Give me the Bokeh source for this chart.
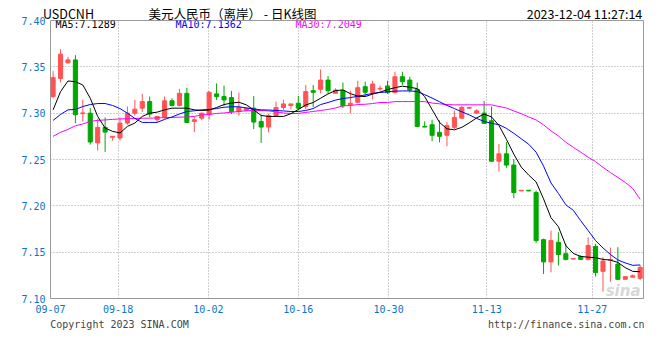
from bokeh.plotting import figure
from bokeh.models import (Range1d, FixedTicker, Label, ColumnDataSource,
                          PrintfTickFormatter, LinearAxis)
from bokeh.embed import file_html
from bokeh.resources import INLINE

# ---------------- data ----------------
opens = [7.3179, 7.3375, 7.3543, 7.3575, 7.2995, 7.3000, 7.2679, 7.2847, 7.2740, 7.2732,
         7.2893, 7.3000, 7.3054, 7.3125, 7.2929, 7.2954, 7.3133, 7.3083, 7.3214, 7.2911,
         7.2946, 7.2985, 7.3208, 7.3179, 7.3168, 7.3018, 7.3029, 7.3054, 7.2911, 7.2850,
         7.2975, 7.3061, 7.3082, 7.3107, 7.3072, 7.3243, 7.3257, 7.3357, 7.3214, 7.3243,
         7.3090, 7.3118, 7.3286, 7.3222, 7.3261, 7.3293, 7.3222, 7.3393, 7.3357, 7.3257,
         7.2857, 7.2875, 7.2793, 7.2761, 7.2847, 7.2946, 7.3054, 7.3000, 7.3000, 7.2918,
         7.2482, 7.2561, 7.2440, 7.2161, 7.2168, 7.2143, 7.1635, 7.1395, 7.1607, 7.1483,
         7.1425, 7.1454, 7.1422, 7.1561, 7.1293, 7.1415, 7.1371, 7.1207, 7.1230, 7.1218]
closes = [7.3383, 7.3636, 7.3575, 7.2983, 7.3003, 7.2689, 7.2847, 7.2796, 7.2750, 7.2893,
          7.3000, 7.3043, 7.3125, 7.2990, 7.2965, 7.3133, 7.3083, 7.3214, 7.2900, 7.2929,
          7.3000, 7.3225, 7.3179, 7.3143, 7.3018, 7.3064, 7.3054, 7.2904, 7.2850, 7.2972,
          7.3061, 7.3100, 7.3100, 7.3054, 7.3233, 7.3225, 7.3357, 7.3243, 7.3250, 7.3080,
          7.3107, 7.3275, 7.3225, 7.3315, 7.3268, 7.3222, 7.3393, 7.3340, 7.3250, 7.2857,
          7.2850, 7.2761, 7.2750, 7.2865, 7.2954, 7.3061, 7.3061, 7.3025, 7.2890, 7.2482,
          7.2561, 7.2440, 7.2143, 7.2168, 7.2161, 7.1625, 7.1395, 7.1625, 7.1475, 7.1422,
          7.1432, 7.1422, 7.1572, 7.1279, 7.1404, 7.1420, 7.1207, 7.1236, 7.1245, 7.1336]
highs = [7.3454, 7.3690, 7.3608, 7.3626, 7.3144, 7.3054, 7.2940, 7.2954, 7.2750, 7.2954,
         7.3072, 7.3144, 7.3208, 7.3180, 7.2965, 7.3180, 7.3161, 7.3261, 7.3275, 7.2965,
         7.3005, 7.3240, 7.3321, 7.3297, 7.3240, 7.3222, 7.3060, 7.3186, 7.2983, 7.2993,
         7.3125, 7.3144, 7.3100, 7.3186, 7.3304, 7.3304, 7.3472, 7.3400, 7.3268, 7.3330,
         7.3243, 7.3350, 7.3340, 7.3350, 7.3297, 7.3350, 7.3447, 7.3447, 7.3393, 7.3330,
         7.2911, 7.2929, 7.2922, 7.2904, 7.3029, 7.3080, 7.3068, 7.3043, 7.3130, 7.3072,
         7.2668, 7.2689, 7.2504, 7.2168, 7.2168, 7.2165, 7.1646, 7.1732, 7.1714, 7.1590,
         7.1432, 7.1465, 7.1661, 7.1590, 7.1447, 7.1550, 7.1554, 7.1236, 7.1260, 7.1361]
lows = [7.3161, 7.3332, 7.3536, 7.2893, 7.2911, 7.2661, 7.2597, 7.2582, 7.2704, 7.2704,
        7.2875, 7.2975, 7.3011, 7.2954, 7.2904, 7.2940, 7.3072, 7.3072, 7.2893, 7.2796,
        7.2922, 7.2929, 7.3143, 7.3080, 7.2993, 7.2972, 7.3025, 7.2829, 7.2679, 7.2793,
        7.2965, 7.3036, 7.3043, 7.3029, 7.3043, 7.3064, 7.3214, 7.3214, 7.3214, 7.3054,
        7.3000, 7.3107, 7.3186, 7.3150, 7.3240, 7.3208, 7.3214, 7.3304, 7.3222, 7.2850,
        7.2850, 7.2697, 7.2686, 7.2643, 7.2829, 7.2936, 7.3054, 7.3000, 7.2885, 7.2475,
        7.2368, 7.2411, 7.2083, 7.2161, 7.2158, 7.1600, 7.1265, 7.1283, 7.1357, 7.1411,
        7.1425, 7.1422, 7.1411, 7.1236, 7.1075, 7.1180, 7.1200, 7.1207, 7.1230, 7.1200]
ma5 = [7.3036, 7.3232, 7.3347, 7.3340, 7.3304, 7.3161, 7.2965, 7.2839, 7.2804, 7.2786,
       7.2857, 7.2893, 7.2965, 7.3000, 7.3011, 7.3036, 7.3054, 7.3054, 7.3054, 7.3036,
       7.3029, 7.3034, 7.3061, 7.3093, 7.3109, 7.3118, 7.3090, 7.3036, 7.2975, 7.2965,
       7.2965, 7.2965, 7.2994, 7.3040, 7.3088, 7.3115, 7.3161, 7.3208, 7.3243, 7.3251,
       7.3211, 7.3184, 7.3179, 7.3206, 7.3227, 7.3254, 7.3275, 7.3291, 7.3280, 7.3265,
       7.3179, 7.3040, 7.2900, 7.2831, 7.2820, 7.2847, 7.2895, 7.2949, 7.2991, 7.2959,
       7.2868, 7.2718, 7.2557, 7.2418, 7.2332, 7.2258, 7.2075, 7.1872, 7.1775, 7.1571,
       7.1486, 7.1454, 7.1446, 7.1440, 7.1422, 7.1414, 7.1390, 7.1333, 7.1293, 7.1289]
ma10 = [7.2922, 7.2986, 7.3036, 7.3040, 7.3072, 7.3093, 7.3104, 7.3104, 7.3083, 7.3050,
        7.3000, 7.2943, 7.2900, 7.2900, 7.2900, 7.2933, 7.2959, 7.2991, 7.3018, 7.3026,
        7.3036, 7.3040, 7.3050, 7.3064, 7.3069, 7.3069, 7.3056, 7.3045, 7.3036, 7.3034,
        7.3029, 7.3024, 7.3018, 7.3018, 7.3029, 7.3050, 7.3093, 7.3115, 7.3141, 7.3158,
        7.3168, 7.3182, 7.3197, 7.3214, 7.3223, 7.3230, 7.3238, 7.3240, 7.3240, 7.3233,
        7.3200, 7.3163, 7.3123, 7.3083, 7.3050, 7.3015, 7.2981, 7.2943, 7.2911, 7.2890,
        7.2876, 7.2836, 7.2782, 7.2724, 7.2665, 7.2579, 7.2429, 7.2247, 7.2134, 7.2011,
        7.1952, 7.1840, 7.1733, 7.1625, 7.1545, 7.1475, 7.1416, 7.1384, 7.1358, 7.1362]
ma30 = [7.2750, 7.2793, 7.2825, 7.2863, 7.2884, 7.2911, 7.2922, 7.2927, 7.2933, 7.2938,
        7.2940, 7.2943, 7.2945, 7.2946, 7.2949, 7.2952, 7.2954, 7.2957, 7.2959, 7.2965,
        7.2981, 7.2986, 7.2997, 7.3002, 7.3010, 7.3018, 7.3026, 7.3029, 7.3029, 7.3024,
        7.3013, 7.3002, 7.2997, 7.2997, 7.3008, 7.3018, 7.3029, 7.3040, 7.3056, 7.3079,
        7.3083, 7.3093, 7.3096, 7.3104, 7.3115, 7.3115, 7.3125, 7.3125, 7.3125, 7.3125,
        7.3125, 7.3109, 7.3101, 7.3093, 7.3090, 7.3090, 7.3090, 7.3090, 7.3090, 7.3090,
        7.3072, 7.3056, 7.3024, 7.2994, 7.2959, 7.2927, 7.2874, 7.2809, 7.2754, 7.2686,
        7.2632, 7.2579, 7.2525, 7.2477, 7.2415, 7.2359, 7.2306, 7.2252, 7.2188, 7.2070]

date_ticks = [-0.35, 8.75, 20.9, 33.0, 45.15, 58.35, 72.55]
date_labels = ["09-07", "09-18", "10-02", "10-16", "10-30", "11-13", "11-27"]
price_ticks = [7.10, 7.15, 7.20, 7.25, 7.30, 7.35, 7.40]
last_ma = {"MA5": "7.1289", "MA10": "7.1362", "MA30": "7.2049"}

symbol = "USDCNH"
title_text = "美元人民币（离岸） - 日K线图"
stamp = "2023-12-04 11:27:14"
copyright_text = "Copyright 2023 SINA.COM"
url_text = "http://finance.sina.com.cn"

# ---------------- layout / styling ----------------
RED = "#ff5454"
GREEN = "#00a800"
BLUE_TXT = "#0a74c8"
MONO = "DejaVu Sans Mono"
CJK = "Noto Sans CJK SC"

X0, X1 = -0.35, 79.45          # index range shown in the frame
FRAME_L, FRAME_R = 50, 643     # frame edges in canvas pixels


def px(xpix):
    """canvas pixel -> index coordinate (for placing header/footer texts)"""
    return X0 + (xpix - FRAME_L) * (X1 - X0) / (FRAME_R - FRAME_L)


idx = list(range(len(closes)))
up = [c >= o for o, c in zip(opens, closes)]
src = ColumnDataSource(dict(
    x=idx,
    top=[max(o, c) for o, c in zip(opens, closes)],
    bottom=[min(o, c) for o, c in zip(opens, closes)],
    high=highs, low=lows,
    color=[RED if u else GREEN for u in up],
))

p = figure(width=644, height=344,
           x_range=Range1d(X0, X1), y_range=Range1d(7.10, 7.40),
           output_backend="svg", toolbar_location=None, title=None,
           min_border_left=FRAME_L, min_border_right=644 - FRAME_R,
           min_border_top=18, min_border_bottom=46)
p.background_fill_color = "white"
p.border_fill_color = "white"
p.outline_line_color = "#999999"
p.outline_line_width = 1

for g, t in ((p.xgrid, date_ticks), (p.ygrid, price_ticks)):
    g.ticker = FixedTicker(ticks=t)
    g.grid_line_color = "#a0a0a0"
    g.grid_line_dash = "1 2"
    g.grid_line_width = 1

xax = p.xaxis[0]
yax = p.yaxis[0]
yax.ticker = FixedTicker(ticks=price_ticks)
yax.formatter = PrintfTickFormatter(format="%.2f")
xax.ticker = FixedTicker(ticks=date_ticks)
xax.major_label_overrides = {t: l for t, l in zip(date_ticks, date_labels)}


def plain(ax, color, font, size, standoff):
    ax.axis_line_color = None
    ax.major_tick_line_color = None
    ax.minor_tick_line_color = None
    ax.major_tick_out = 0
    ax.major_tick_in = 0
    ax.minor_tick_out = 0
    ax.minor_tick_in = 0
    ax.major_label_text_color = color
    ax.major_label_text_font = font
    ax.major_label_text_font_size = size
    ax.major_label_standoff = standoff


plain(yax, BLUE_TXT, MONO, "10px", 5)
plain(xax, BLUE_TXT, MONO, "10px", 6)

# header line (symbol, title, timestamp) carried by an axis above the frame
hdr_pos = [px(68), px(232), px(584)]
hdr_txt = [symbol, title_text, stamp]
hdr = LinearAxis(ticker=FixedTicker(ticks=hdr_pos),
                 major_label_overrides={t: s for t, s in zip(hdr_pos, hdr_txt)})
plain(hdr, "#000000", CJK, "12.5px", -2)
p.add_layout(hdr, "above")

# footer line carried by a second axis below the dates
ftr_pos = [px(119), px(566)]
ftr_txt = [copyright_text, url_text]
ftr = LinearAxis(ticker=FixedTicker(ticks=ftr_pos),
                 major_label_overrides={t: s for t, s in zip(ftr_pos, ftr_txt)})
plain(ftr, "#444444", MONO, "10px", 3)
p.add_layout(ftr, "below")

p.segment(x0="x", y0="high", x1="x", y1="low", color="color", line_width=1, source=src)
p.vbar(x="x", top="top", bottom="bottom", width=0.55, fill_color="color",
       line_color="color", line_width=1, source=src)

p.line(idx, ma30, color="#ff00ff", line_width=1)
p.line(idx, ma10, color="#0000ff", line_width=1)
p.line(idx, ma5, color="#000000", line_width=1)


def lab(x, y, text, color="#000000", font=MONO, size="10px", align="left", **kw):
    p.add_layout(Label(x=x, y=y, x_units="screen", y_units="screen", text=text,
                       text_color=color, text_font=font, text_font_size=size,
                       text_align=align, text_baseline="middle", **kw))


lab(5, 274, "MA5:" + last_ma["MA5"], color="#000000")
lab(125, 274, "MA10:" + last_ma["MA10"], color="#0000ff")
lab(245, 274, "MA30:" + last_ma["MA30"], color="#ff00ff")
lab(590, 8, "sina", color="#d8d8d8", font="DejaVu Sans", size="15px", align="right",
    text_font_style="bold italic")

open("out.html", "w").write(file_html(p, INLINE))
